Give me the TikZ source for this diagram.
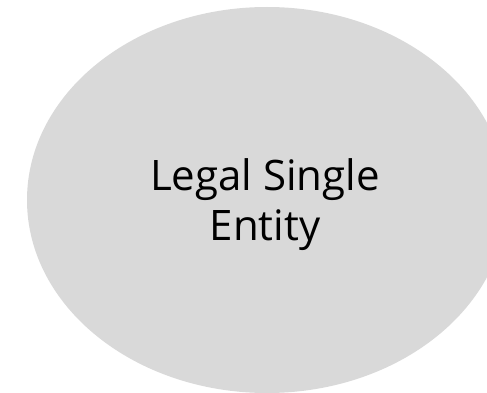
\documentclass[tikz,border=0pt]{standalone}
\usepackage{fontspec}
\setmainfont{Open Sans}
\definecolor{fillgray}{HTML}{D9D9D9}
\usetikzlibrary{shapes.geometric}
\tikzset{entity/.style={ellipse, fill=fillgray, draw=none, minimum width=480pt, minimum height=386pt, inner sep=0pt}}
\begin{document}
\begin{tikzpicture}[x=1pt,y=1pt]
\useasboundingbox (0,0) rectangle (487,392);
\clip (0,0) rectangle (487,392);
\node[entity] (e) at (267,192) {};
\node[align=center, font=\fontsize{42}{50}\selectfont, inner sep=0pt] (t) at (265,187) {Legal Single\\Entity};
\end{tikzpicture}
\end{document}
